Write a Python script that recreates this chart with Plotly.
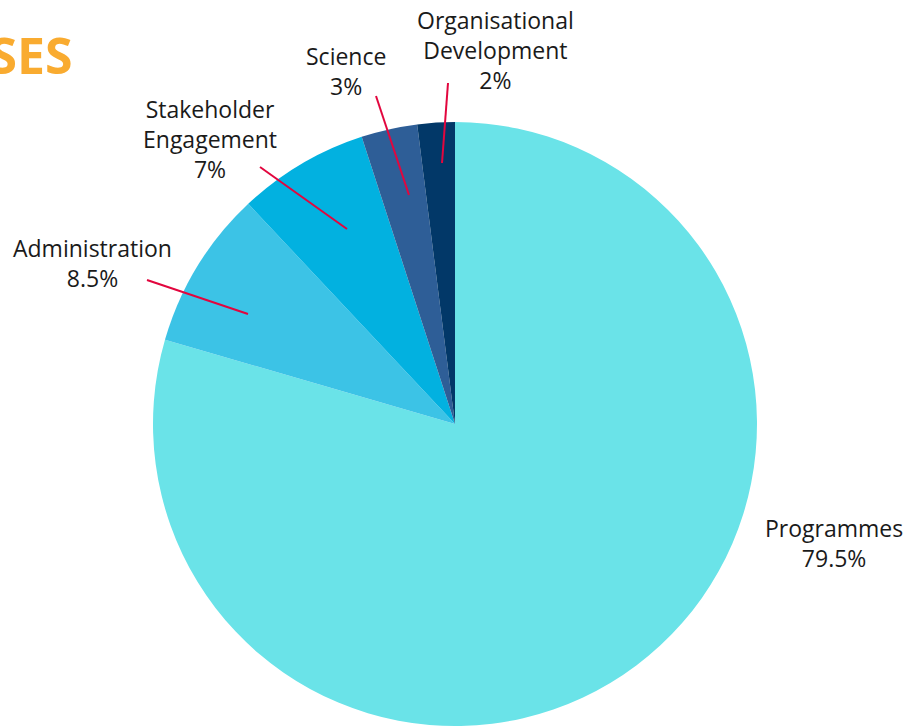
import plotly.graph_objects as go

W, H = 911, 727

categories = ["Programmes", "Administration", "Stakeholder Engagement", "Science", "Organisational Development"]
values = [79.5, 8.5, 7, 3, 2]
label_texts = ["Programmes<br>79.5%", "Administration<br>8.5%", "Stakeholder<br>Engagement<br>7%",
               "Science<br>3%", "Organisational<br>Development<br>2%"]
colors = ["#6AE3E8", "#3CC3E6", "#02B1E0", "#2E5E97", "#023868"]

def px(x):
    return x / W

def py(y):
    return 1 - y / H

cx, cy, r = 455, 424, 302

fig = go.Figure(go.Pie(
    labels=categories, values=values, sort=False, direction="clockwise", rotation=0,
    marker=dict(colors=colors, line=dict(width=0)),
    textinfo="none", hoverinfo="label+percent", showlegend=False,
    domain=dict(x=[px(cx - r), px(cx + r)], y=[py(cy + r), py(cy - r)]),
))

# label positions (pixel centres) and leader lines (pixel endpoints)
label_pos = [(834, 543), (92, 263), (210, 139), (346, 71), (496, 50)]
leaders = [None, ((147, 280), (248, 314)), ((260, 167), (347, 229)),
           ((376, 96), (409, 195)), ((448, 83), (442, 163))]

annotations = []
shapes = []
for txt, (lx, ly), ld in zip(label_texts, label_pos, leaders):
    annotations.append(dict(text=txt, x=px(lx), y=py(ly), xref="paper", yref="paper",
                            xanchor="center", yanchor="middle", showarrow=False,
                            font=dict(family="Open Sans", size=23, color="#1a1a1a"), align="center"))
    if ld:
        (x0, y0), (x1, y1) = ld
        shapes.append(dict(type="line", xref="paper", yref="paper",
                           x0=px(x0), y0=py(y0), x1=px(x1), y1=py(y1),
                           line=dict(color="#E2063E", width=2)))

annotations.append(dict(text="<b>EXPENSES</b>", x=px(74), y=py(55), xref="paper", yref="paper",
                        xanchor="right", yanchor="middle", showarrow=False,
                        font=dict(family="Open Sans", size=50, color="#F9AB30")))

fig.update_layout(width=W, height=H, margin=dict(l=0, r=0, t=0, b=0),
                  paper_bgcolor="white", plot_bgcolor="white",
                  annotations=annotations, shapes=shapes)

fig.write_html("out.html", config={"displayModeBar": False},
               post_script="document.body.style.margin='0';document.body.style.overflow='hidden';")
